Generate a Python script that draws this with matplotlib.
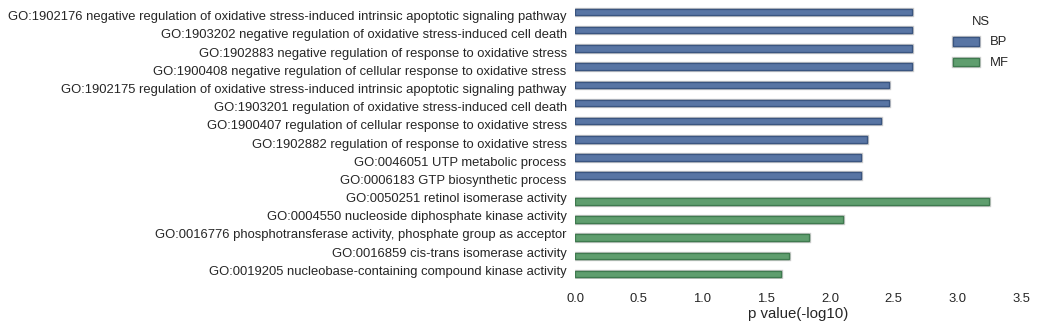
import matplotlib
matplotlib.use("Agg")
import matplotlib.pyplot as plt
import matplotlib.patheffects as pe
import numpy as np

# GO terms and their enrichment scores, grouped by namespace
bp_terms = [
    "GO:1902176 negative regulation of oxidative stress-induced intrinsic apoptotic signaling pathway",
    "GO:1903202 negative regulation of oxidative stress-induced cell death",
    "GO:1902883 negative regulation of response to oxidative stress",
    "GO:1900408 negative regulation of cellular response to oxidative stress",
    "GO:1902175 regulation of oxidative stress-induced intrinsic apoptotic signaling pathway",
    "GO:1903201 regulation of oxidative stress-induced cell death",
    "GO:1900407 regulation of cellular response to oxidative stress",
    "GO:1902882 regulation of response to oxidative stress",
    "GO:0046051 UTP metabolic process",
    "GO:0006183 GTP biosynthetic process",
]
bp_values = [2.645, 2.645, 2.645, 2.645, 2.465, 2.465, 2.40, 2.29, 2.245, 2.245]

mf_terms = [
    "GO:0050251 retinol isomerase activity",
    "GO:0004550 nucleoside diphosphate kinase activity",
    "GO:0016776 phosphotransferase activity, phosphate group as acceptor",
    "GO:0016859 cis-trans isomerase activity",
    "GO:0019205 nucleobase-containing compound kinase activity",
]
mf_values = [3.25, 2.10, 1.837, 1.68, 1.617]

namespaces = ["BP", "MF"]
colors = {"BP": "#5875A4", "MF": "#5F9E6E"}
edge_colors = {"BP": "#3a5580", "MF": "#3f7a4f"}
xticks = [0.0, 0.5, 1.0, 1.5, 2.0, 2.5, 3.0, 3.5]

plt.rcParams["font.family"] = ["Liberation Sans", "DejaVu Sans"]
fs = 9.38
txt = "#262626"

fig = plt.figure(figsize=(10.37, 3.28), dpi=100)
ax = fig.add_axes([0.5545, 0.148, 0.4301, 0.832])

terms = bp_terms + mf_terms
n = len(terms)
pos = np.arange(n)
bar_h = 0.36
stroke = [pe.withStroke(linewidth=2.4, foreground="#cccccc"), pe.Normal()]

groups = {"BP": (pos[:len(bp_terms)] - 0.2, bp_values),
          "MF": (pos[len(bp_terms):] + 0.2, mf_values)}
for ns in namespaces:
    y, v = groups[ns]
    bars = ax.barh(y, v, height=bar_h, color=colors[ns], edgecolor=edge_colors[ns],
                   linewidth=0.9, label=ns)
    for b in bars:
        b.set_path_effects(stroke)

ax.set_yticks(pos)
ax.set_yticklabels(terms, fontsize=fs, color=txt)
ax.set_ylim(n - 0.5, -0.5)
ax.set_xlim(0, 3.5)
ax.set_xticks(xticks)
ax.set_xticklabels([f"{t:.1f}" for t in xticks], fontsize=fs, color=txt)
ax.set_xlabel("p value(-log10)", fontsize=10.8, color=txt, labelpad=1)
ax.tick_params(axis="y", length=0, pad=6)
ax.tick_params(axis="x", length=0, pad=10)
for s in ax.spines.values():
    s.set_visible(False)

leg = ax.legend(title="NS", loc="upper right", bbox_to_anchor=(1.0, 1.01),
                frameon=False, fontsize=fs, title_fontsize=fs,
                handlelength=2.0, handleheight=0.8, handletextpad=0.9,
                labelspacing=0.62)
for h in leg.legend_handles:
    h.set_path_effects(stroke)
    h.set_height(h.get_height() * 0.85)
for t in leg.get_texts():
    t.set_color(txt)
leg.get_title().set_color(txt)

fig.savefig("out.png", dpi=100)
